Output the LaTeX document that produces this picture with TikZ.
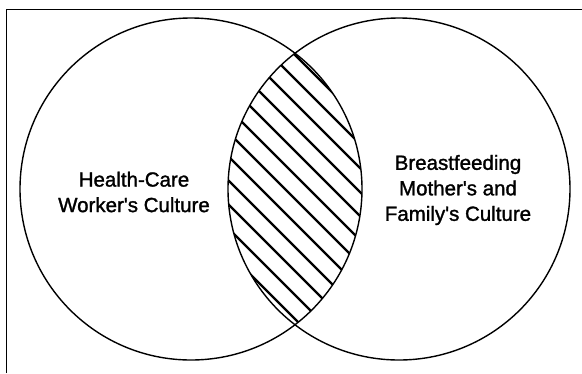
\documentclass[tikz,border=0pt]{standalone}
\usepackage{fontspec}
\setmainfont{Liberation Sans}
\newfontfamily\culturefont{Liberation Sans}[FakeBold=1.4]
\usepackage{tikz}
\usetikzlibrary{positioning}
\definecolor{vnInk}{HTML}{000000}
\tikzset{
  vennset/.style={draw=vnInk, circle, line width=1.4pt, minimum size=342pt, inner sep=0pt},
  hatchline/.style={draw=vnInk, line width=2.3pt},
  frameline/.style={draw=vnInk, line width=1pt},
  culture/.style={font=\culturefont\fontsize{20.5}{25.5}\selectfont, align=center, text=vnInk}
}
\begin{document}
\begin{tikzpicture}[x=1pt, y=-1pt]
  \useasboundingbox (0,0) rectangle (582,373);
  % frame, only top and left edges fall on the page
  \draw[frameline] (6,373) -- (6,9) -- (582,9);
  \node[vennset] (hcw) at (191,189) {};
  \node[vennset] (bmf) at (399,189) {};
  % hatched overlap
  \begin{scope}
    \clip (hcw.center) circle (171);
    \clip (bmf.center) circle (171);
    \foreach \c in {240,216,...,-24}{
      \draw[hatchline] (\c,0) -- ++(400,400);
    }
  \end{scope}
  \node[culture] (hcwtext) at (134,192) {Health-Care\\Worker's Culture};
  \node[culture] (bmftext) at (458,190) {Breastfeeding\\Mother's and\\Family's Culture};
\end{tikzpicture}
\end{document}
